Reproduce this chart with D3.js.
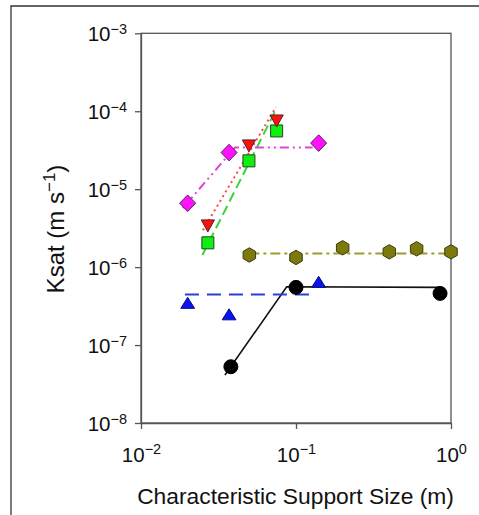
<!DOCTYPE html>
<html>
<head>
<meta charset="utf-8">
<script src="https://cdn.jsdelivr.net/npm/d3@7"></script>
<style>
  html, body { margin: 0; padding: 0; background: #fff; }
  svg { display: block; }
  text { font-family: "Liberation Sans", Arial, Helvetica, sans-serif; fill: #111; }
</style>
</head>
<body>
<svg id="chart" width="479" height="515"></svg>
<script>
// ---------------- data ----------------
const xTickValues = [0.01, 0.1, 1];
const xTickExponents = ["−2", "−1", "0"];
const yTickValues = [1e-8, 1e-7, 1e-6, 1e-5, 1e-4, 1e-3];
const yTickExponents = ["−8", "−7", "−6", "−5", "−4", "−3"];

const xTitle = "Characteristic Support Size (m)";

// Magenta diamonds
const diamondX = [0.02, 0.037, 0.14];
const diamondY = [6.6e-6, 2.95e-5, 3.9e-5];
const diamondFitX = [0.0186, 0.0404, 0.128];
const diamondFitY = [5.7e-6, 3.43e-5, 3.43e-5];

// Red inverted triangles
const redTriX = [0.027, 0.0497, 0.075];
const redTriY = [3.38e-6, 3.59e-5, 7.5e-5];
const redFitX = [0.0251, 0.0743];
const redFitY = [2.98e-6, 1.13e-4];

// Green squares
const squareX = [0.027, 0.0497, 0.075];
const squareY = [2.05e-6, 2.31e-5, 5.59e-5];
const greenFitX = [0.0249, 0.0743];
const greenFitY = [1.43e-6, 1.05e-4];

// Olive hexagons
const hexX = [0.05, 0.1, 0.2, 0.4, 0.6, 1.0];
const hexY = [1.43e-6, 1.33e-6, 1.77e-6, 1.57e-6, 1.72e-6, 1.57e-6];
const hexFitX = [0.05, 1.0];
const hexFitY = [1.5e-6, 1.5e-6];

// Blue triangles
const blueTriX = [0.02, 0.037, 0.14];
const blueTriY = [3.48e-7, 2.48e-7, 6.48e-7];
const blueFitX = [0.0192, 0.126];
const blueFitY = [4.47e-7, 4.47e-7];

// Black circles
const circleX = [0.038, 0.1, 0.85];
const circleY = [5.27e-8, 5.5e-7, 4.6e-7];
const blackFitX = [0.0348, 0.0871, 0.85];
const blackFitY = [4.12e-8, 5.59e-7, 5.5e-7];

// ---------------- layout ----------------
const svg = d3.select("#chart");
const mLeft = 141, mRight = 451, mTop = 33.3, mBottom = 423;

const x = d3.scaleLog().domain([0.01, 1]).range([mLeft, mRight]);
const y = d3.scaleLog().domain([1e-8, 1e-3]).range([mBottom, mTop]);

// outer frame
svg.append("path")
  .attr("d", `M11,520 L11,6 L485,6`)
  .attr("fill", "none").attr("stroke", "#333").attr("stroke-width", 1.3);

// plot box
svg.append("rect")
  .attr("x", mLeft).attr("y", mTop)
  .attr("width", mRight - mLeft).attr("height", mBottom - mTop)
  .attr("fill", "none").attr("stroke", "#555").attr("stroke-width", 1.3);

// axes
const axisColor = "#555";
const gx = svg.append("g").attr("transform", `translate(0,${mBottom})`)
  .call(d3.axisBottom(x).tickValues(xTickValues).tickSize(6).tickSizeOuter(0).tickPadding(18).tickFormat(() => ""));
const gy = svg.append("g").attr("transform", `translate(${mLeft},0)`)
  .call(d3.axisLeft(y).tickValues(yTickValues).tickSize(6).tickSizeOuter(0).tickPadding(8).tickFormat(() => ""));

[gx, gy].forEach(g => {
  g.select(".domain").attr("stroke", axisColor).attr("stroke-width", 1.3);
  g.selectAll(".tick line").attr("stroke", axisColor).attr("stroke-width", 1.3);
  g.selectAll(".tick text").attr("font-size", 20.5).attr("fill", "#111")
   .attr("font-family", "'Liberation Sans', Arial, sans-serif");
});

gx.selectAll(".tick text").each(function(d, i) {
  const t = d3.select(this);
  t.append("tspan").text("10");
  t.append("tspan").attr("font-size", 14.5).attr("dy", "-7.5").text(xTickExponents[i]);
});
gy.selectAll(".tick text").attr("dy", "0.37em").each(function(d, i) {
  const t = d3.select(this);
  t.append("tspan").text("10");
  t.append("tspan").attr("font-size", 14.5).attr("dy", "-7").text(yTickExponents[i]);
});

// axis titles
svg.append("text")
  .attr("x", 295.5).attr("y", 504)
  .attr("text-anchor", "middle").attr("font-size", 22.8)
  .text(xTitle);

const yt = svg.append("text")
  .attr("transform", "translate(63.5,229) rotate(-90)")
  .attr("text-anchor", "middle").attr("font-size", 24);
yt.append("tspan").text("K");
yt.append("tspan").text("sat");
yt.append("tspan").text(" (m s");
yt.append("tspan").attr("font-size", 17).attr("dy", -9).text("−1");
yt.append("tspan").attr("dy", 9).text(")");

// ---------------- fit lines ----------------
const line = d3.line().x(d => x(d[0])).y(d => y(d[1]));
const zip = (a, b) => a.map((v, i) => [v, b[i]]);

const fits = [
  { xs: blackFitX, ys: blackFitY, color: "#111", dash: null, w: 1.6 },
  { xs: blueFitX, ys: blueFitY, color: "#2a3fd8", dash: "14,8", w: 2 },
  { xs: hexFitX, ys: hexFitY, color: "#9c9c2e", dash: "10,4,3,4", w: 2 },
  { xs: greenFitX, ys: greenFitY, color: "#3ad43a", dash: "10,5", w: 2 },
  { xs: redFitX, ys: redFitY, color: "#ff4646", dash: "2,3.5", w: 2 },
  { xs: diamondFitX, ys: diamondFitY, color: "#dd44dd", dash: "9,4,2,4,2,4", w: 2 },
];
fits.forEach(f => {
  svg.append("path")
    .attr("d", line(zip(f.xs, f.ys)))
    .attr("fill", "none").attr("stroke", f.color)
    .attr("stroke-width", f.w)
    .attr("stroke-dasharray", f.dash);
});

// ---------------- markers ----------------
const shapes = {
  diamond: "M0,-8.3 L8,0 L0,8.3 L-8,0 Z",
  triDown: "M-6.6,-6 L6.6,-6 L0,6 Z",
  triUp: "M-6.9,5.5 L6.9,5.5 L0,-5.5 Z",
  square: "M-6,-6 L6,-6 L6,6 L-6,6 Z",
  hexagon: d3.range(6).map(i => {
    const a = Math.PI / 3 * i - Math.PI / 2;
    return (i ? "L" : "M") + (7.2 * Math.cos(a)).toFixed(2) + "," + (7.2 * Math.sin(a)).toFixed(2);
  }).join("") + "Z",
};

function drawMarkers(xs, ys, shape, fill, stroke) {
  svg.append("g").selectAll("path")
    .data(zip(xs, ys)).join("path")
    .attr("d", shape)
    .attr("transform", d => `translate(${x(d[0])},${y(d[1])})`)
    .attr("fill", fill).attr("stroke", stroke).attr("stroke-width", 1);
}

drawMarkers(hexX, hexY, shapes.hexagon, "#7d7a0c", "#3a3a10");
drawMarkers(blueTriX, blueTriY, shapes.triUp, "#0a14f0", "#0a0a80");
svg.append("g").selectAll("circle")
  .data(zip(circleX, circleY)).join("circle")
  .attr("cx", d => x(d[0])).attr("cy", d => y(d[1])).attr("r", 7)
  .attr("fill", "#000").attr("stroke", "#000");
drawMarkers(diamondX, diamondY, shapes.diamond, "#ff10ff", "#552255");
drawMarkers(squareX, squareY, shapes.square, "#10f010", "#224422");
drawMarkers(redTriX, redTriY, shapes.triDown, "#ff1010", "#552222");
</script>
</body>
</html>
